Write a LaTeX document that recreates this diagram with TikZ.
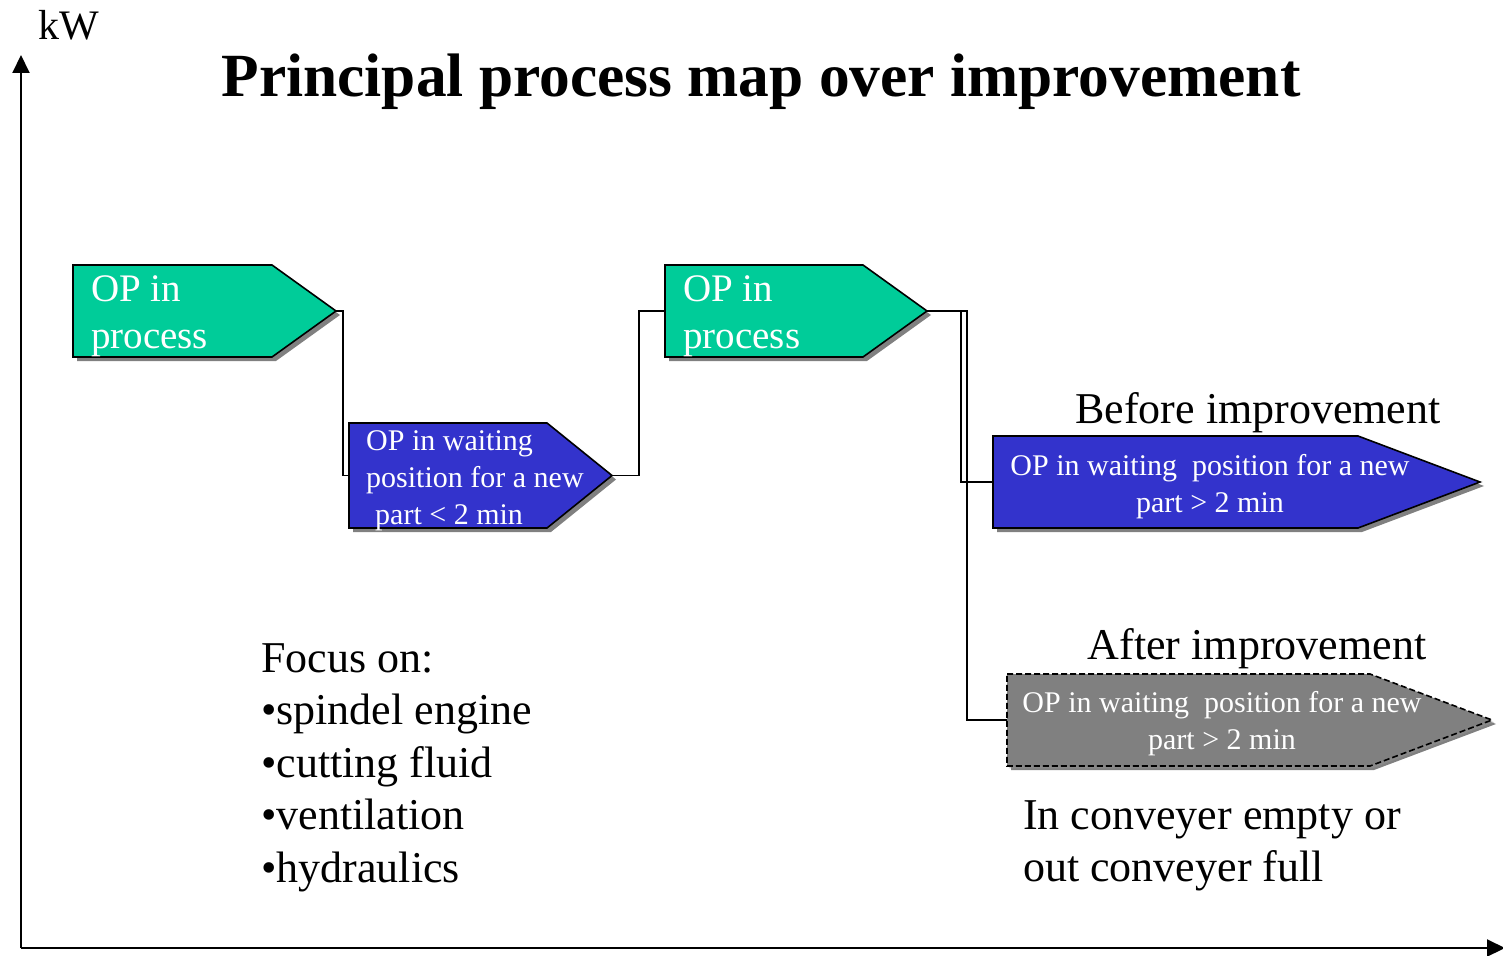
\documentclass[tikz,border=0pt]{standalone}
\usepackage{fontspec}
\setmainfont{Liberation Serif}
\usetikzlibrary{arrows.meta,positioning,calc,shadows}
\definecolor{zold}{RGB}{0,204,153}
\definecolor{kek}{RGB}{51,51,204}
\definecolor{szurke}{RGB}{128,128,128}
\tikzset{
  test/.style={inner sep=0pt,outer sep=0pt,anchor=north west},
  doboz/.style={draw,line width=1.6pt,line join=miter,
                drop shadow={shadow xshift=4pt,shadow yshift=-4pt,fill=szurke,opacity=1}},
  feher/.style={text=white,inner sep=0pt,align=left},
  kisbetu/.style={font=\fontsize{30}{37}\selectfont},
  nagybetu/.style={font=\fontsize{44}{52.5}\selectfont},
  vonal/.style={line width=1.7pt},
  tengely/.style={line width=2pt,-{Triangle[length=18pt,width=17pt]}},
}

\begin{document}
\begin{tikzpicture}[x=1pt,y=-1pt]
  \useasboundingbox (0,0) rectangle (1503,955);
  % tengelyek
  \coordinate (O) at (21,948);
  \coordinate (yveg) at (21,55);
  \coordinate (xveg) at (1505,948);
  \draw[tengely] (O) -- (yveg);
  \draw[tengely] (O) -- (xveg);
  \node[anchor=base west,inner sep=0pt,font=\fontsize{42}{48}\selectfont] (kw) at (38,40) {kW};
  \node[anchor=base,inner sep=0pt,font=\fontsize{61.4}{70}\selectfont\bfseries] (cim) at (761,97)
    {Principal process map over improvement};

  % dobozok
  \node[test,minimum width=199pt,minimum height=92pt] (g1) at (73,265) {};
  \draw[doboz,fill=zold] (g1.north west) -- (g1.north east) -- ([xshift=64pt]g1.east) coordinate (g1hegy)
    -- (g1.south east) -- (g1.south west) -- cycle;
  \node[feher,anchor=north west,font=\fontsize{39}{47}\selectfont] (g1t) at (91,275.5) {OP in\\process};

  \node[test,minimum width=198pt,minimum height=105pt] (k1) at (349,423) {};
  \draw[doboz,fill=kek] (k1.north west) -- (k1.north east) -- ([xshift=65pt]k1.east) coordinate (k1hegy)
    -- (k1.south east) -- (k1.south west) -- cycle;
  \node[feher,kisbetu,anchor=north west] (k1t) at (366,430.6)
    {OP in waiting\\position for a new\\\hspace*{9pt}part < 2 min};

  \node[test,minimum width=198pt,minimum height=92pt] (g2) at (665,265) {};
  \draw[doboz,fill=zold] (g2.north west) -- (g2.north east) -- ([xshift=64pt]g2.east) coordinate (g2hegy)
    -- (g2.south east) -- (g2.south west) -- cycle;
  \node[feher,anchor=north west,font=\fontsize{39}{47}\selectfont] (g2t) at (683,275.5) {OP in\\process};

  \node[test,minimum width=365pt,minimum height=92pt] (k2) at (993,436) {};
  \draw[doboz,fill=kek] (k2.north west) -- (k2.north east) -- ([xshift=122pt]k2.east) coordinate (k2hegy)
    -- (k2.south east) -- (k2.south west) -- cycle;
  \node[feher,kisbetu,align=center,anchor=north] (k2t) at (1210,454.6)
    {OP in waiting\ \ position for a new\\part > 2 min};

  \node[test,minimum width=363pt,minimum height=92pt] (sz) at (1007,674) {};
  \draw[doboz,dashed,dash pattern=on 6pt off 3pt,fill=szurke,drop shadow={fill=szurke!85}]
    (sz.north west) -- (sz.north east) -- ([xshift=122pt]sz.east) coordinate (szhegy)
    -- (sz.south east) -- (sz.south west) -- cycle;
  \node[feher,kisbetu,align=center,anchor=north] (szt) at (1222,691.6)
    {OP in waiting\ \ position for a new\\part > 2 min};

  % osszekotok
  \draw[vonal] (g1hegy) -- ++(7,0) |- (k1.west);
  \draw[vonal] (k1hegy) -- ++(27,0) |- (g2.west);
  \draw[vonal] (g2hegy) -- ++(34,0) |- (k2.west);
  \draw[vonal] (g2hegy) -- ++(40,0) |- (sz.west);

  % feliratok
  \node[nagybetu,anchor=base,inner sep=0pt] (elotte) at (1258,423) {Before improvement};
  \node[nagybetu,anchor=base,inner sep=0pt] (utana) at (1257,659) {After improvement};
  \node[nagybetu,anchor=north west,inner sep=0pt,align=left] (fokusz) at (261,643)
    {Focus on:\\•spindel engine\\•cutting fluid\\•ventilation\\•hydraulics};
  \node[nagybetu,anchor=north west,inner sep=0pt,align=left] (szallito) at (1023,800)
    {In conveyer empty or\\out conveyer full};
\end{tikzpicture}
\end{document}
